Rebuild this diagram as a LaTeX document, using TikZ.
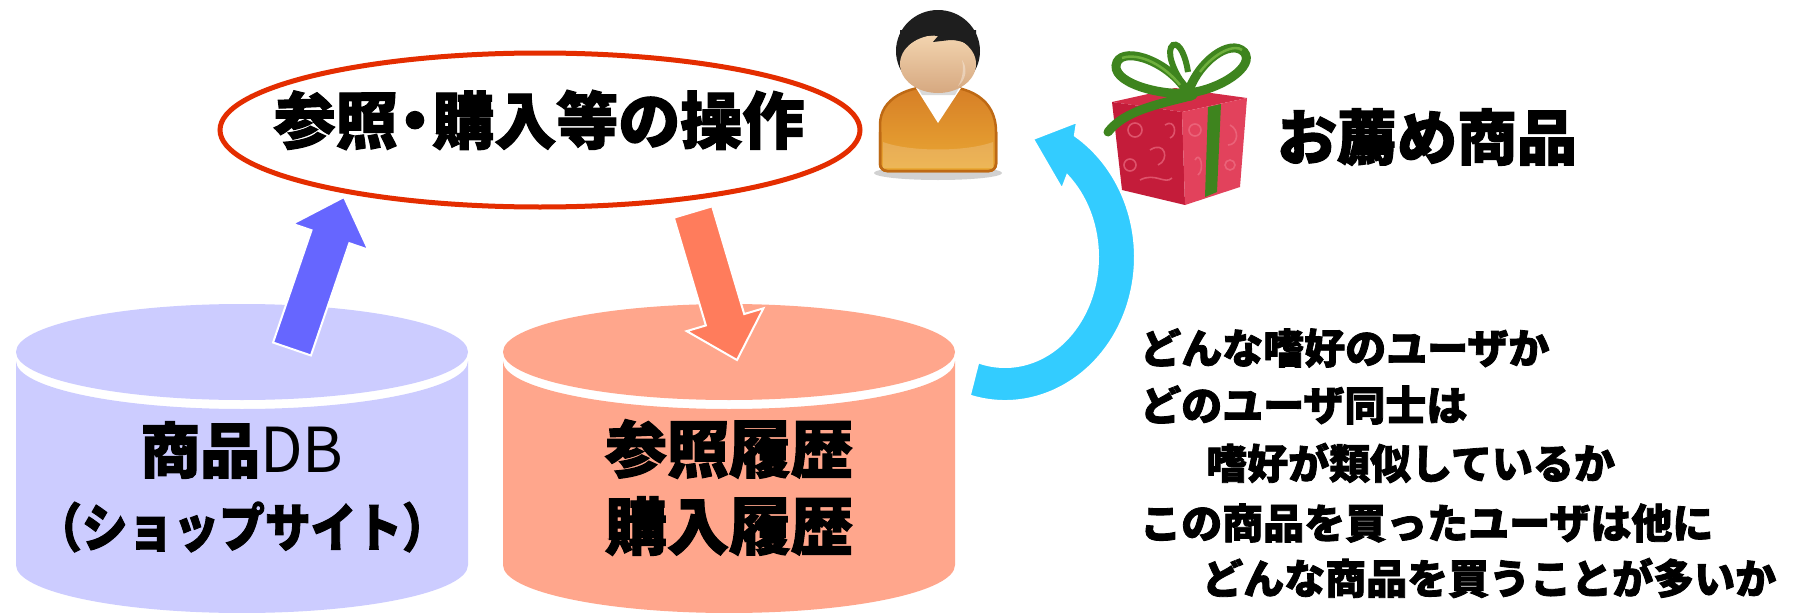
\documentclass[tikz,border=0pt]{standalone}
\usepackage{fontspec}
\newfontfamily\jp{Noto Sans CJK JP}[BoldFeatures={FakeBold=2}]
\usetikzlibrary{calc,shapes.geometric}

\definecolor{opred}{RGB}{228,45,0}
\definecolor{dbblue}{RGB}{204,204,255}
\definecolor{histred}{RGB}{255,166,140}
\definecolor{upblue}{RGB}{102,102,255}
\definecolor{downred}{RGB}{255,124,92}
\definecolor{loopcyan}{RGB}{51,204,255}
\definecolor{shirttop}{RGB}{214,126,38}
\definecolor{shirtbot}{RGB}{234,168,52}
\definecolor{shirtline}{RGB}{190,105,20}
\definecolor{skintop}{RGB}{243,212,175}
\definecolor{skinbot}{RGB}{214,168,128}
\definecolor{hair}{RGB}{30,30,30}
\definecolor{boxleft}{RGB}{196,28,58}
\definecolor{boxright}{RGB}{226,66,92}
\definecolor{boxtop}{RGB}{212,44,72}
\definecolor{swirl}{RGB}{240,120,140}
\definecolor{ribbon}{RGB}{62,132,30}
\definecolor{ribbonhi}{RGB}{110,175,60}

% a database drum: #1 centre x, #2 fill colour
\newcommand\drum[2]{%
  \fill[#2] (#1-226,361) -- (#1-226,565)
    arc[start angle=180, end angle=0, x radius=226, y radius=48]
    -- (#1+226,361)
    arc[start angle=0, end angle=180, x radius=226, y radius=48] -- cycle;
  \fill[#2] (#1,352) ellipse[x radius=226, y radius=48];
}

% a straight block arrow: #1 tail, #2 tip, #3 colour, #4 name prefix
\newcommand\blockarrow[4]{%
  \coordinate (#4base) at ($(#2)!42pt!(#1)$);
  \fill[black, opacity=0.15, shift={(3,3)}]
    ($(#1)!20pt!90:(#2)$) -- ($(#4base)!20pt!90:(#2)$) -- ($(#4base)!40pt!90:(#2)$)
    -- (#2) -- ($(#4base)!40pt!-90:(#2)$) -- ($(#4base)!20pt!-90:(#2)$)
    -- ($(#1)!20pt!-90:(#2)$) -- cycle;
  \filldraw[fill=#3, draw=white, line width=2pt]
    ($(#1)!20pt!90:(#2)$) -- ($(#4base)!20pt!90:(#2)$) -- ($(#4base)!40pt!90:(#2)$)
    -- (#2) -- ($(#4base)!40pt!-90:(#2)$) -- ($(#4base)!20pt!-90:(#2)$)
    -- ($(#1)!20pt!-90:(#2)$) -- cycle;
}

\tikzset{
  jpbig/.style={font=\jp\bfseries\fontsize{60}{60}\selectfont, inner sep=0pt},
  jpnote/.style={font=\jp\bfseries\fontsize{41}{41}\selectfont, inner sep=0pt, anchor=west},
}

\begin{document}
\begin{tikzpicture}[x=1pt, y=-1pt]
\useasboundingbox (0,0) rectangle (1808,613);
\fill[white] (0,0) rectangle (1808,613);

% ---- the two databases
\drum{242}{dbblue}
\drum{729}{histred}
\node[jpbig] (dbname) at (242,450) {商品{\mdseries\fontsize{62}{62}\selectfont DB}};
\node[jpbig, font=\jp\bfseries\fontsize{52}{52}\selectfont] (dbsub) at (242,527)
  {\scalebox{0.88}[1]{（ショップサイト）}};
\node[jpbig, font=\jp\bfseries\fontsize{62}{62}\selectfont] (hist1) at (729,449) {参照履歴};
\node[jpbig, font=\jp\bfseries\fontsize{62}{62}\selectfont] (hist2) at (729,526) {購入履歴};

% ---- user operations
\node[draw=opred, line width=5pt, shape=ellipse, minimum width=640pt, minimum height=154pt]
  (opsring) at (540,130) {};
\node[jpbig, font=\jp\bfseries\fontsize{62}{62}\selectfont] (opstext) at (539,120)
  {参照\hspace{-0.22em}・\hspace{-0.22em}購入等の操作};

% ---- arrows between the databases and the operations
\coordinate (upTail) at (292,349);
\coordinate (upTip) at (344,197);
\blockarrow{upTail}{upTip}{upblue}{up}
\coordinate (downTail) at (693,212);
\coordinate (downTip) at (737,360);
\blockarrow{downTail}{downTip}{downred}{down}

% ---- circular arrow back to the user
\coordinate (loopc) at (1005,257);
\coordinate (loopOutA) at ($(loopc)+(105.7:130 and 144)$);
\coordinate (loopInB) at ($(loopc)+(-48:93 and 110)$);
\coordinate (barbOut) at (1077,122);
\coordinate (loopTip) at (1033,139);
\coordinate (barbIn) at (1062,189);
\fill[black, opacity=0.12, shift={(3,3)}] (loopOutA)
  arc[start angle=105.7, end angle=-57.5, x radius=130, y radius=144]
  -- (barbOut) -- (loopTip) -- (barbIn) -- (loopInB)
  arc[start angle=-48, end angle=106.7, x radius=93, y radius=110] -- cycle;
\filldraw[fill=loopcyan, draw=white, line width=2pt] (loopOutA)
  arc[start angle=105.7, end angle=-57.5, x radius=130, y radius=144]
  -- (barbOut) -- (loopTip) -- (barbIn) -- (loopInB)
  arc[start angle=-48, end angle=106.7, x radius=93, y radius=110] -- cycle;

% ---- user figure
\fill[black, opacity=0.18] (938,173) ellipse[x radius=64, y radius=7];
\shade[top color=shirttop, bottom color=shirtbot, draw=shirtline, line width=2.5pt,
       rounded corners=7pt]
  (880,171) -- (880,132) [sharp corners] .. controls (880,98) and (908,86) .. (938,86)
  .. controls (968,86) and (996,98) .. (996,132) [rounded corners=7pt] -- (996,171) -- cycle;
\draw[shirtline, line width=2.5pt, rounded corners=7pt]
  (880,132) -- (880,171) -- (996,171) -- (996,132);
\fill[white, opacity=0.18] (883,142) .. controls (910,152) and (966,152) .. (993,142)
  -- (993,168) -- (883,168) -- cycle;
\fill[white] (916,88) -- (961,88) -- (938,123) -- cycle;
\fill[black!15] (918,88) -- (959,88) -- (955,95) -- (922,95) -- cycle;
\fill[hair] (938,51) ellipse[x radius=42, y radius=41];
\shade[top color=skintop, bottom color=skinbot] (938,64) ellipse[x radius=38, y radius=29];
\fill[hair] (900,50) .. controls (905,40) and (920,34) .. (938,36)
  -- (933,42) -- (950,40) .. controls (962,40) and (972,45) .. (976,52)
  -- (976,30) -- (900,30) -- cycle;
\fill[white, opacity=0.35] (962,60) .. controls (968,68) and (966,80) .. (958,86)
  .. controls (963,78) and (964,68) .. (962,60);

% ---- gift box
\fill[boxtop] (1112,102) -- (1175,88) -- (1247,98) -- (1182,112) -- cycle;
\fill[boxleft] (1112,102) -- (1182,112) -- (1185,205) -- (1122,190) -- cycle;
\fill[boxright] (1182,112) -- (1247,98) -- (1240,187) -- (1185,205) -- cycle;
\begin{scope}[swirl, line width=1.6pt, opacity=0.6]
  \draw (1135,130) circle[radius=7];
  \draw (1150,150) .. controls (1165,140) and (1170,160) .. (1158,165);
  \draw (1130,165) circle[radius=6];
  \draw (1140,180) .. controls (1155,172) and (1165,185) .. (1172,178);
  \draw (1165,125) .. controls (1175,118) and (1178,135) .. (1170,138);
  \draw (1195,130) circle[radius=6];
  \draw (1230,125) .. controls (1240,130) and (1238,145) .. (1228,145);
  \draw (1195,160) .. controls (1200,150) and (1205,170) .. (1198,175);
  \draw (1230,165) circle[radius=5];
\end{scope}
\fill[ribbon] (1208,107) -- (1221,104) -- (1217,192) -- (1205,197) -- cycle;
\draw[ribbon, line width=9pt, line cap=round] (1190,96) .. controls (1160,104) and (1125,110) .. (1108,132);
\draw[ribbon, line width=9pt] (1188,93) .. controls (1160,96) and (1108,82) .. (1117,62)
  .. controls (1125,46) and (1170,62) .. (1188,93);
\draw[ribbon, line width=9pt] (1188,93) .. controls (1198,62) and (1230,38) .. (1244,52)
  .. controls (1256,66) and (1220,90) .. (1188,93);
\draw[ribbon, line width=6pt] (1186,88) .. controls (1172,70) and (1166,50) .. (1173,45)
  .. controls (1180,42) and (1186,58) .. (1188,72);
\draw[ribbonhi, line width=2.5pt] (1122,58) .. controls (1140,52) and (1165,66) .. (1180,85);
\draw[ribbonhi, line width=2.5pt] (1200,72) .. controls (1215,52) and (1235,44) .. (1242,50);
\fill[ribbon] (1188,94) ellipse[x radius=10, y radius=7];

% ---- labels
\node[jpbig] (reco) at (1427,137) {お薦め商品};
\node[jpnote] (q1) at (1140,348) {どんな嗜好のユーザか};
\node[jpnote] (q2) at (1140,405) {どのユーザ同士は};
\node[jpnote] (q3) at (1206,463) {嗜好が類似しているか};
\node[jpnote] (q4) at (1140,523) {この商品を買ったユーザは他に};
\node[jpnote] (q5) at (1202,578) {どんな商品を買うことが多いか};
\end{tikzpicture}
\end{document}
